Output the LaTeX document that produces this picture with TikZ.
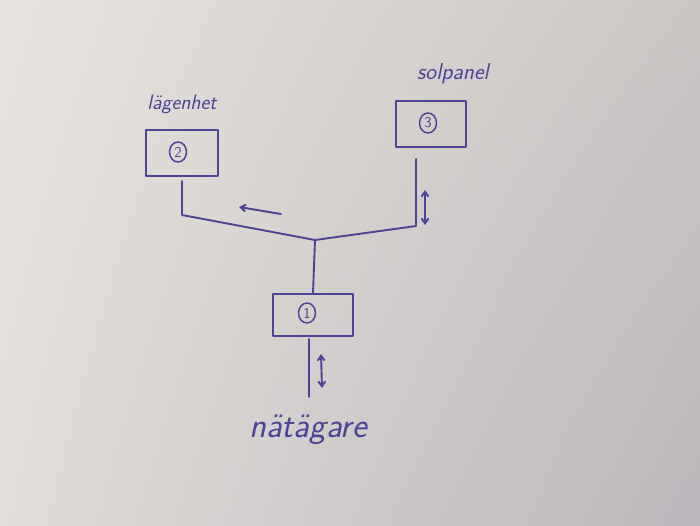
\documentclass[tikz,border=0pt]{standalone}
\usetikzlibrary{arrows.meta,calc,shadings,shapes.geometric}
\definecolor{ink}{RGB}{78,68,150}
\definecolor{pUL}{RGB}{231,227,222}
\definecolor{pUR}{RGB}{204,199,197}
\definecolor{pLL}{RGB}{225,221,217}
\definecolor{pLR}{RGB}{186,182,187}
\begin{document}
\begin{tikzpicture}[x=1pt,y=-1pt,
  inkline/.style={draw=ink,line width=1.9pt,line cap=round,line join=round},
  unitbox/.style={inkline,rectangle,minimum width=#1,minimum height=46pt,inner sep=0pt},
  numcirc/.style={inkline,ellipse,line width=1.5pt,minimum width=17pt,minimum height=20pt,inner sep=0pt,text=ink,font=\sffamily\fontsize{15}{15}\selectfont},
  lbl/.style={text=ink,font=\sffamily\itshape\fontsize{21}{21}\selectfont,inner sep=0pt},
  tip/.style={-{Straight Barb[length=5pt,width=7pt]}},
  dtip/.style={{Straight Barb[length=5pt,width=7pt]}-{Straight Barb[length=5pt,width=7pt]}}]
\useasboundingbox (0,0) rectangle (700,525);
\shade[upper left=pUL, upper right=pUR, lower left=pLL, lower right=pLR] (0,0) rectangle (700,525);
% boxes
\node[unitbox=72pt] (b2) at (182,153) {};
\node[unitbox=70pt] (b3) at (431,124) {};
\node[unitbox=80pt,minimum height=42pt] (b1) at (313,315) {};
% circled numbers
\node[numcirc] (c2) at (178,152) {2};
\node[numcirc] (c3) at (428,123) {3};
\node[numcirc] (c1) at (307,313) {1};
% labels
\node[lbl] (l2) at (182,104) {lägenhet};
\node[lbl,font=\sffamily\itshape\fontsize{23}{23}\selectfont] (l3) at (453,74) {solpanel};
\node[lbl,font=\sffamily\itshape\fontsize{35}{35}\selectfont] (l1) at (308,430) {nätägare};
% junction and bends
\coordinate (j) at (315,240);
\coordinate (k2) at (182,215);
\coordinate (k3) at (416,226);
\coordinate (e1) at (309,397);
\draw[inkline] ($(b2.south)+(0,4)$) -- (k2) -- (j);
\draw[inkline] ($(b3.south)+(-15,11)$) -- (k3) -- (j);
\draw[inkline] (j) -- (b1.north);
\draw[inkline] ($(b1.south)+(-4,2)$) -- (e1);
% arrows
\coordinate (a1s) at (281,214);
\coordinate (a1e) at (239,207);
\draw[inkline,tip] (a1s) -- (a1e);
\coordinate (a3s) at (425,190);
\coordinate (a3e) at (425,225);
\draw[inkline,dtip] (a3s) -- (a3e);
\coordinate (a0s) at (321,354);
\coordinate (a0e) at (322,388);
\draw[inkline,dtip] (a0s) -- (a0e);
\end{tikzpicture}
\end{document}
